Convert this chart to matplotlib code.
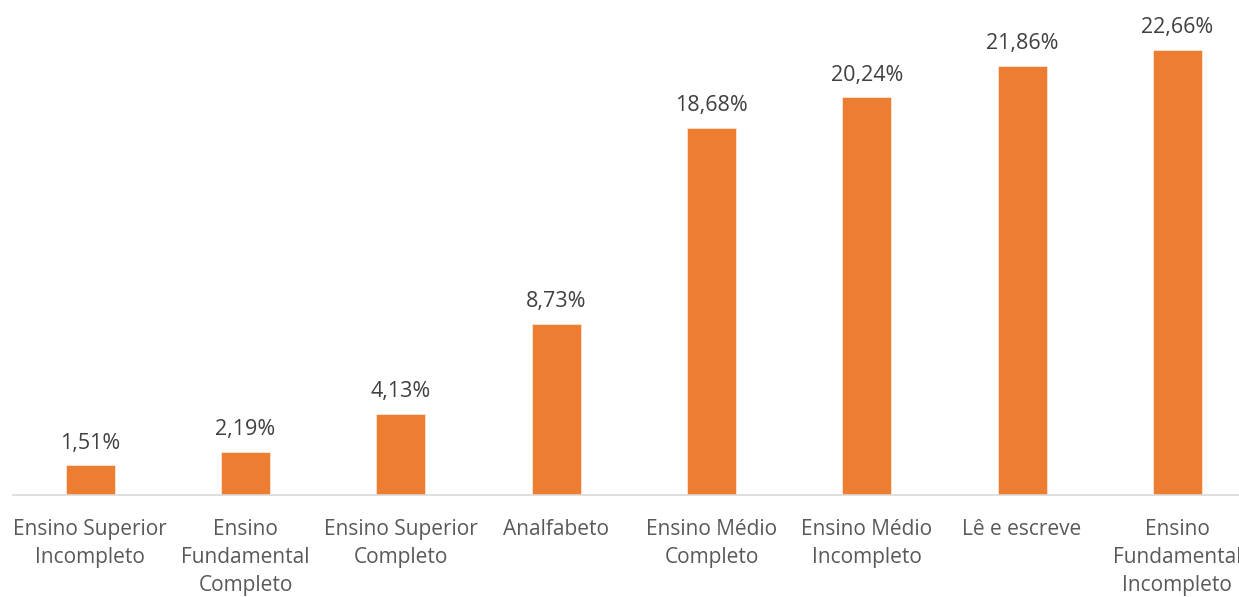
import matplotlib.pyplot as plt

plt.rcParams['font.family'] = ['Open Sans', 'DejaVu Sans']

# data
categorias = ['Ensino Superior\nIncompleto', 'Ensino\nFundamental\nCompleto',
              'Ensino Superior\nCompleto', 'Analfabeto', 'Ensino Médio\nCompleto',
              'Ensino Médio\nIncompleto', 'Lê e escreve', 'Ensino\nFundamental\nIncompleto']
valores = [1.51, 2.19, 4.13, 8.73, 18.68, 20.24, 21.86, 22.66]
rotulos = ['1,51%', '2,19%', '4,13%', '8,73%', '18,68%', '20,24%', '21,86%', '22,66%']

fig = plt.figure(figsize=(12.39, 5.97), dpi=100)
ax = fig.add_axes([0.0102, 0.1709, 1.0027, 0.8291])

x = range(len(valores))
bars = ax.bar(x, valores, width=0.316, color='#ED7D31', edgecolor='#FBE5D6', linewidth=0.6)

for xi, v, r in zip(x, valores, rotulos):
    ax.text(xi, v + 0.6, r, ha='center', va='bottom', fontsize=15.5, color='#404040')

ax.set_xlim(-0.5, len(valores) - 0.5)
ax.set_ylim(0, 25.2)
ax.set_xticks(list(x))
ax.set_xticklabels(categorias, fontsize=15, color='#595959', linespacing=1.45)
ax.tick_params(axis='x', length=0, pad=17)
ax.set_yticks([])
for s in ['top', 'right', 'left']:
    ax.spines[s].set_visible(False)
ax.spines['bottom'].set_color('#D9D9D9')
ax.spines['bottom'].set_linewidth(1.2)

fig.savefig('out.png', dpi=100)
